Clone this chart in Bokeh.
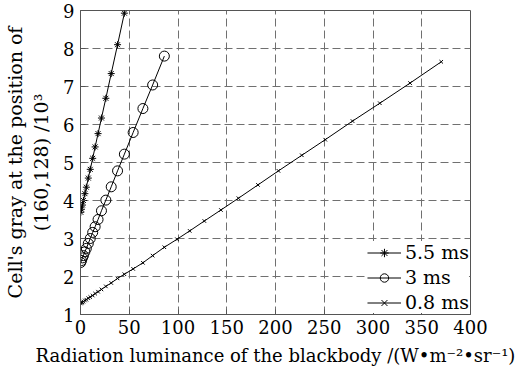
from bokeh.plotting import figure
from bokeh.embed import file_html
from bokeh.resources import INLINE
from bokeh.models import FixedTicker, Range1d

# shared radiation luminance values (W·m^-2·sr^-1)
lum = [0.3, 1, 2, 3, 4.5, 6, 8, 10, 12.5, 15, 18, 21.5, 26, 31.5, 38, 45,
       54, 64, 74, 86, 99, 112, 127, 144, 162, 182, 203, 227, 251, 279,
       307, 338, 370]

gray_55 = [3.69, 3.77, 3.88, 4.00, 4.18, 4.35, 4.59, 4.82, 5.11, 5.41, 5.76,
           6.17, 6.69, 7.34, 8.10, 8.93]
gray_3 = [2.37, 2.42, 2.49, 2.55, 2.65, 2.74, 2.87, 3.00, 3.16, 3.31, 3.50,
          3.73, 4.01, 4.36, 4.78, 5.22, 5.79, 6.42, 7.04, 7.80]
gray_08 = [1.29, 1.31, 1.32, 1.34, 1.37, 1.39, 1.43, 1.46, 1.50, 1.55, 1.60,
           1.66, 1.74, 1.83, 1.95, 2.06, 2.20, 2.36, 2.55, 2.77, 2.98, 3.20,
           3.46, 3.75, 4.06, 4.41, 4.78, 5.19, 5.60, 6.09, 6.56, 7.09, 7.65]

x_ticks = [0, 50, 100, 150, 200, 250, 300, 350, 400]
y_ticks = [1, 2, 3, 4, 5, 6, 7, 8, 9]

FONT = "DejaVu Serif"
AX = "#555555"

p = figure(width=522, height=369, output_backend="svg", toolbar_location=None,
           x_range=Range1d(0, 400), y_range=Range1d(1, 9),
           min_border_left=79, min_border_right=52, min_border_top=10,
           min_border_bottom=55)
p.outline_line_color = AX
p.outline_line_width = 1

for ax in (p.xaxis[0], p.yaxis[0]):
    ax.ticker = FixedTicker(ticks=x_ticks if ax is p.xaxis[0] else y_ticks)
    ax.axis_line_color = AX
    ax.major_tick_line_color = AX
    ax.major_tick_in = 5
    ax.major_tick_out = 0
    ax.minor_tick_line_color = None
    ax.major_label_text_font = FONT
    ax.major_label_text_font_size = "18px"
    ax.major_label_text_color = "black"
    ax.axis_label_text_font = FONT
    ax.axis_label_text_font_style = "normal"
    ax.axis_label_text_color = "black"

p.xaxis.axis_label_text_font_size = "18px"
p.yaxis.axis_label_text_font_size = "19px"
p.xaxis.major_label_standoff = 5
p.yaxis.major_label_standoff = 6
p.xaxis.axis_label = "Radiation luminance of the blackbody /(W\u2022m\u207b\u00b2\u2022sr\u207b\u00b9)"
p.yaxis.axis_label = "Cell's gray at the position of\n(160,128) /10\u00b3"
p.xaxis.axis_label_standoff = 8
p.yaxis.axis_label_standoff = 8

p.xgrid.grid_line_color = "#707070"
p.ygrid.grid_line_color = "#707070"
p.xgrid.grid_line_dash = "8 4"
p.ygrid.grid_line_dash = "8 4"
p.xgrid.grid_line_width = 1
p.ygrid.grid_line_width = 1

n55 = len(gray_55)
n3 = len(gray_3)
p.line(lum[:n55], gray_55, line_color="black", line_width=1, legend_label="5.5 ms")
p.scatter(lum[:n55], gray_55, marker="asterisk", size=7, line_color="black",
          line_width=1, legend_label="5.5 ms")
p.line(lum[:n3], gray_3, line_color="black", line_width=1, legend_label="3 ms")
p.scatter(lum[:n3], gray_3, marker="circle", size=10, line_color="black",
          fill_color=None, line_width=1, legend_label="3 ms")
p.line(lum, gray_08, line_color="black", line_width=1, legend_label="0.8 ms")
p.scatter(lum, gray_08, marker="x", size=5, line_color="black",
          line_width=1, legend_label="0.8 ms")

lg = p.legend[0]
lg.location = "bottom_right"
lg.margin = 1
lg.padding = 2
lg.spacing = 3
lg.border_line_color = None
lg.background_fill_color = "white"
lg.background_fill_alpha = 1
lg.label_text_font = FONT
lg.label_text_font_size = "19px"
lg.label_text_color = "black"
lg.glyph_width = 34
lg.glyph_height = 21
lg.label_standoff = 4
lg.label_height = 21

open("out.html", "w").write(file_html(p, INLINE))
